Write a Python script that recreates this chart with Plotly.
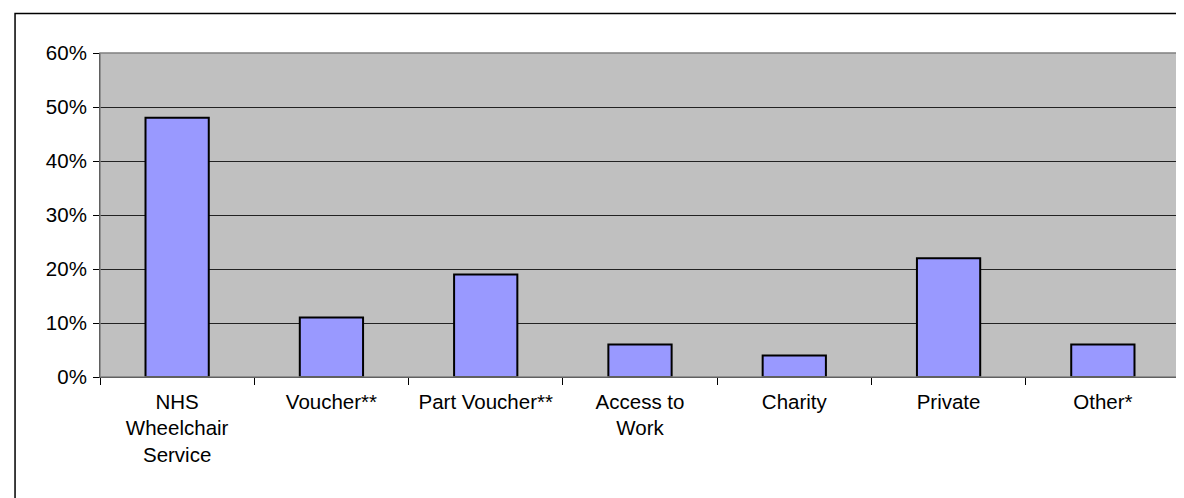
import plotly.graph_objects as go

categories = ["NHS<br>Wheelchair<br>Service", "Voucher**", "Part Voucher**",
              "Access to<br>Work", "Charity", "Private", "Other*"]
values = [0.48, 0.11, 0.19, 0.06, 0.04, 0.22, 0.06]
y_ticks = [0, 0.1, 0.2, 0.3, 0.4, 0.5, 0.6]
y_tick_labels = ["0%", "10%", "20%", "30%", "40%", "50%", "60%"]

W, H = 1184, 498
ml, mr, mt, mb = 91.5, 12, 45, 129
pw, ph = W - ml - mr, H - mt - mb

def px2x(px):
    return (px - ml) / pw

def py2y(py):
    return (H - mb - py) / ph

fig = go.Figure()
fig.add_trace(go.Bar(
    x=categories, y=values, width=0.41,
    marker=dict(color="#9999FF", line=dict(color="black", width=2)),
))

fnt = dict(family="Arial, Liberation Sans, sans-serif", size=20.5, color="black")

fig.update_layout(
    width=W, height=H,
    margin=dict(l=ml, r=mr, t=mt, b=mb),
    paper_bgcolor="white",
    plot_bgcolor="#C0C0C0",
    showlegend=False,
    bargap=0.59,
    font=fnt,
    xaxis=dict(
        type="category", tickson="boundaries", ticks="outside", ticklen=7,
        tickcolor="black", showline=True, linecolor="black", linewidth=1,
        showgrid=False, tickfont=fnt, ticklabelstandoff=6,
    ),
    yaxis=dict(
        range=[0, 0.6], tickvals=y_ticks, ticktext=y_tick_labels,
        ticks="outside", ticklen=6, tickcolor="black",
        showline=True, linecolor="black", linewidth=1,
        showgrid=True, gridcolor="#222222", gridwidth=1,
        zeroline=False, tickfont=fnt, ticklabelstandoff=2,
    ),
    shapes=[
        dict(type="rect", xref="paper", yref="paper", x0=0, x1=1, y0=0, y1=1,
             line=dict(color="#808080", width=1.5), layer="above"),
        dict(type="rect", xref="paper", yref="paper",
             x0=px2x(6.5), x1=px2x(1200), y0=py2y(5.5), y1=py2y(520),
             line=dict(color="black", width=1.5), layer="above"),
    ],
)

fig.write_html("out.html")
